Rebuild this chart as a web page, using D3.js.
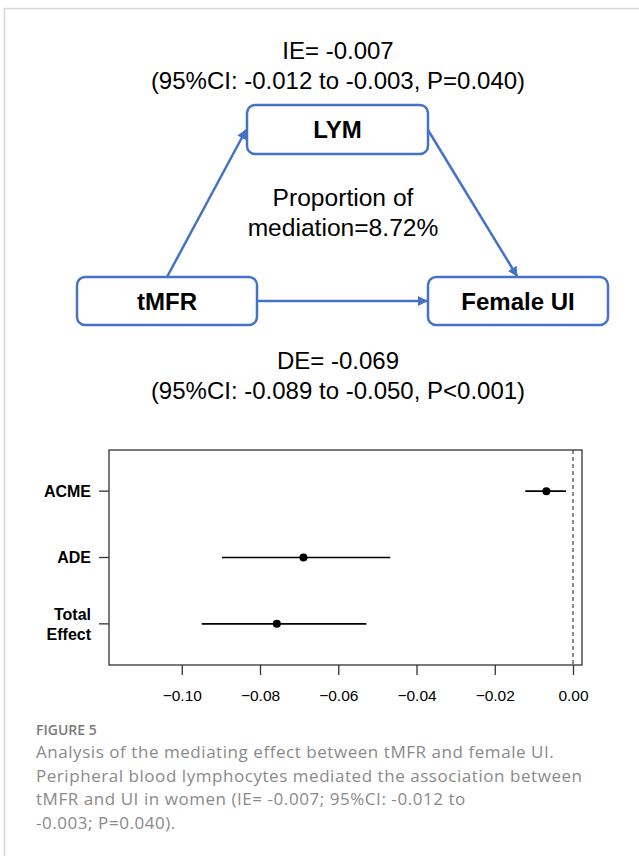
<!DOCTYPE html>
<html>
<head>
<meta charset="utf-8">
<script src="https://cdn.jsdelivr.net/npm/d3@7"></script>
<style>
  body { margin: 0; background: #fff; }
  svg { display: block; }
</style>
</head>
<body>
<svg id="figure"></svg>
<script>
// mediation diagram text
const nodeNames = ["LYM", "tMFR", "Female UI"];
const ieLines = ["IE= -0.007", "(95%CI: -0.012 to -0.003, P=0.040)"];
const deLines = ["DE= -0.069", "(95%CI: -0.089 to -0.050, P<0.001)"];
const proportionLines = ["Proportion of", "mediation=8.72%"];

// effect plot values
const effects = ["ACME", "ADE", "Total Effect"];
const estimates = [-0.0068, -0.0689, -0.0757];
const lower = [-0.0122, -0.0897, -0.0949];
const upper = [-0.0018, -0.0467, -0.0528];
const xTicks = [-0.10, -0.08, -0.06, -0.04, -0.02, 0.00];

// caption
const figureLabel = "FIGURE 5";
const captionLines = [
    "Analysis of the mediating effect between tMFR and female UI.",
    "Peripheral blood lymphocytes mediated the association between",
    "tMFR and UI in women (IE= -0.007; 95%CI: -0.012 to",
    "-0.003; P=0.040)."
];

const W = 639, H = 856;
const blue = "#4472c4";
const font = "'Liberation Sans', Arial, sans-serif";

const svg = d3.select("#figure").attr("width", W).attr("height", H);

// outer frame
svg.append("path")
    .attr("d", "M4.5," + H + " V8.5 H" + W)
    .attr("fill", "none")
    .attr("stroke", "#d6d6d6")
    .attr("stroke-width", 1.5);

// ---------- DIAGRAM ----------
const diagram = svg.append("g");

// box layout: x, y, w, h
const boxes = {
    "LYM": {x: 247, y: 105, w: 181, h: 49},
    "tMFR": {x: 77, y: 277, w: 180, h: 48},
    "Female UI": {x: 428, y: 277, w: 180, h: 48}
};

svg.append("defs").append("marker")
    .attr("id", "arrow")
    .attr("viewBox", "0 0 10 10")
    .attr("refX", 9).attr("refY", 5)
    .attr("markerWidth", 4).attr("markerHeight", 4)
    .attr("orient", "auto")
    .append("path")
    .attr("d", "M0,0 L10,5 L0,10 z")
    .attr("fill", blue);

const arrows = [
    [[167, 277], [246, 130]],
    [[428, 130], [517, 276]],
    [[257, 301], [427, 301]]
];
diagram.selectAll(".arrow").data(arrows).join("line")
    .attr("class", "arrow")
    .attr("x1", d => d[0][0]).attr("y1", d => d[0][1])
    .attr("x2", d => d[1][0]).attr("y2", d => d[1][1])
    .attr("stroke", blue)
    .attr("stroke-width", 2.5)
    .attr("marker-end", "url(#arrow)");

const nodes = diagram.selectAll(".node").data(nodeNames).join("g")
    .attr("class", "node");
nodes.append("rect")
    .attr("x", d => boxes[d].x).attr("y", d => boxes[d].y)
    .attr("width", d => boxes[d].w).attr("height", d => boxes[d].h)
    .attr("rx", 8)
    .attr("fill", "#fff")
    .attr("stroke", blue)
    .attr("stroke-width", 2.5);
nodes.append("text")
    .attr("x", d => boxes[d].x + boxes[d].w / 2)
    .attr("y", d => boxes[d].y + boxes[d].h / 2 + 8.5)
    .attr("text-anchor", "middle")
    .style("font-family", font)
    .style("font-size", "24px")
    .style("font-weight", 700)
    .text(d => d);

function textBlock(lines, cx, firstY, step, size) {
    diagram.append("g").selectAll("text").data(lines).join("text")
        .attr("x", cx)
        .attr("y", (d, i) => firstY + i * step)
        .attr("text-anchor", "middle")
        .style("font-family", font)
        .style("font-size", size + "px")
        .text(d => d);
}
textBlock(ieLines, 338, 58.5, 30, 24);
textBlock(proportionLines, 343, 205.5, 30, 24.6);
textBlock(deLines, 338, 368.5, 30, 24);

// ---------- EFFECT PLOT ----------
const plot = {left: 109, right: 582, top: 450, bottom: 665};

const x = d3.scaleLinear()
    .domain([-0.1186, 0.0023])
    .range([plot.left, plot.right]);
const y = d3.scaleLinear()
    .domain([0.38, 3.62])
    .range([plot.top, plot.bottom]);

const rows = effects.map((name, i) => ({
    name: name, pos: i + 1, est: estimates[i], lo: lower[i], hi: upper[i]
}));

// dashed zero line
svg.append("line")
    .attr("x1", x(0)).attr("x2", x(0))
    .attr("y1", plot.top).attr("y2", plot.bottom)
    .attr("stroke", "#666")
    .attr("stroke-width", 1.5)
    .attr("stroke-dasharray", "4,3");

// x axis
const xAxis = svg.append("g")
    .attr("transform", "translate(0," + plot.bottom + ")")
    .call(d3.axisBottom(x).tickValues(xTicks).tickSize(10).tickPadding(15)
        .tickFormat(d3.format(".2f")));
xAxis.select(".domain").remove();
xAxis.selectAll("line").attr("stroke", "#333").attr("stroke-width", 1.3);
xAxis.selectAll("text")
    .style("font-family", font)
    .style("font-size", "15.5px")
    .attr("fill", "#000");

// y ticks
svg.selectAll(".ytick").data(rows).join("line")
    .attr("class", "ytick")
    .attr("x1", plot.left - 10).attr("x2", plot.left)
    .attr("y1", d => y(d.pos)).attr("y2", d => y(d.pos))
    .attr("stroke", "#333")
    .attr("stroke-width", 1.3);

// y labels (bold, right aligned, multi-line)
const ylab = svg.selectAll(".ylab").data(rows).join("text")
    .attr("class", "ylab")
    .attr("text-anchor", "end")
    .style("font-family", font)
    .style("font-size", "16px")
    .style("font-weight", 700);
ylab.each(function(d) {
    const words = d.name.split(" ");
    const t = d3.select(this);
    words.forEach((w, i) => {
        t.append("tspan")
            .attr("x", 91)
            .attr("y", y(d.pos) + 5.8 + (i - (words.length - 1) / 2) * 20)
            .text(w);
    });
});

// confidence intervals
svg.selectAll(".ci").data(rows).join("line")
    .attr("class", "ci")
    .attr("x1", d => x(d.lo)).attr("x2", d => x(d.hi))
    .attr("y1", d => y(d.pos)).attr("y2", d => y(d.pos))
    .attr("stroke", "#000")
    .attr("stroke-width", 1.6);

// point estimates
svg.selectAll(".est").data(rows).join("circle")
    .attr("class", "est")
    .attr("cx", d => x(d.est))
    .attr("cy", d => y(d.pos))
    .attr("r", 4)
    .attr("fill", "#000");

// plot box
svg.append("rect")
    .attr("x", plot.left).attr("y", plot.top)
    .attr("width", plot.right - plot.left)
    .attr("height", plot.bottom - plot.top)
    .attr("fill", "none")
    .attr("stroke", "#333")
    .attr("stroke-width", 1.3);

// ---------- CAPTION ----------
svg.append("text")
    .attr("x", 36).attr("y", 735)
    .style("font-family", "'Open Sans', sans-serif")
    .style("font-size", "14px")
    .style("font-weight", 600)
    .attr("fill", "#7a7a7a")
    .text(figureLabel);

svg.append("g").selectAll("text").data(captionLines).join("text")
    .attr("x", 36)
    .attr("y", (d, i) => 758 + i * 23.5)
    .style("font-family", "'Open Sans', sans-serif")
    .style("font-size", "17px")
    .style("font-weight", 400)
    .style("letter-spacing", "0.55px")
    .attr("fill", "#8a8a8a")
    .text(d => d);
</script>
</body>
</html>
